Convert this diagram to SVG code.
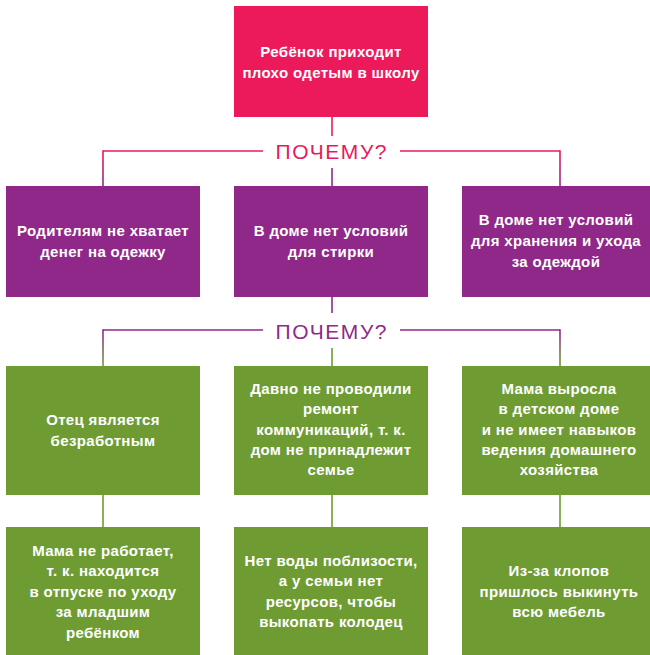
<svg xmlns="http://www.w3.org/2000/svg" width="650" height="655" viewBox="0 0 650 655">
<defs>
<style>
.box text{font-family:"Liberation Sans",Arial,sans-serif;font-weight:bold;font-size:15px;letter-spacing:0.35px;fill:#ffffff;text-anchor:middle}
.pink{fill:#EC1A5B}
.purple{fill:#902889}
.green{fill:#6E9C33}
.why{font-family:"Liberation Sans",Arial,sans-serif;font-size:21px;text-anchor:middle;letter-spacing:2px}
.conn line{stroke-width:1.6;fill:none}
</style>
<linearGradient id="gPP1" gradientUnits="userSpaceOnUse" x1="0" y1="151" x2="0" y2="186">
<stop offset="0" stop-color="#EC1A5B"/><stop offset="1" stop-color="#902889"/>
</linearGradient>
<linearGradient id="gPG1" gradientUnits="userSpaceOnUse" x1="0" y1="330" x2="0" y2="366">
<stop offset="0" stop-color="#902889"/><stop offset="1" stop-color="#6E9C33"/>
</linearGradient>
</defs>
<rect width="650" height="655" fill="#ffffff"/>

<g id="connectors" class="conn">
<line x1="332" y1="117" x2="332" y2="136" stroke="#EC1A5B"/>
<line x1="103" y1="151" x2="263" y2="151" stroke="#EC1A5B"/>
<line x1="400" y1="151" x2="560" y2="151" stroke="#EC1A5B"/>
<line x1="103" y1="150.2" x2="103" y2="186" stroke="url(#gPP1)"/>
<line x1="560" y1="150.2" x2="560" y2="186" stroke="url(#gPP1)"/>
<line x1="332" y1="168" x2="332" y2="186" stroke="#902889"/>

<line x1="332" y1="297" x2="332" y2="313" stroke="#902889"/>
<line x1="103" y1="330" x2="263" y2="330" stroke="#902889"/>
<line x1="400" y1="330" x2="560" y2="330" stroke="#902889"/>
<line x1="103" y1="329.2" x2="103" y2="366" stroke="url(#gPG1)"/>
<line x1="560" y1="329.2" x2="560" y2="366" stroke="url(#gPG1)"/>
<line x1="332" y1="348" x2="332" y2="366" stroke="#6E9C33"/>

<line x1="103" y1="495" x2="103" y2="527" stroke="#6E9C33"/>
<line x1="332" y1="495" x2="332" y2="527" stroke="#6E9C33"/>
<line x1="560" y1="495" x2="560" y2="527" stroke="#6E9C33"/>
</g>

<g id="why1"><text class="why" x="332" y="159" fill="#E8195E" textLength="113">ПОЧЕМУ?</text></g>
<g id="why2"><text class="why" x="332" y="339" fill="#8E2A8B" textLength="113">ПОЧЕМУ?</text></g>

<g id="top" class="box">
<rect class="pink" x="234" y="6" width="194" height="111"/>
<text x="331" y="57">Ребёнок приходит</text>
<text x="331" y="78">плохо одетым в школу</text>
</g>

<g id="p1" class="box">
<rect class="purple" x="6" y="186" width="194" height="111"/>
<text x="103" y="236">Родителям не хватает</text>
<text x="103" y="257">денег на одежку</text>
</g>
<g id="p2" class="box">
<rect class="purple" x="234" y="186" width="194" height="111"/>
<text x="331" y="236">В доме нет условий</text>
<text x="331" y="257">для стирки</text>
</g>
<g id="p3" class="box">
<rect class="purple" x="462" y="186" width="194" height="111"/>
<text x="556" y="225">В доме нет условий</text>
<text x="556" y="246">для хранения и ухода</text>
<text x="556" y="267">за одеждой</text>
</g>

<g id="g1" class="box">
<rect class="green" x="6" y="366" width="194" height="129"/>
<text x="103" y="425">Отец является</text>
<text x="103" y="446">безработным</text>
</g>
<g id="g2" class="box">
<rect class="green" x="234" y="366" width="194" height="129"/>
<text x="331" y="394">Давно не проводили</text>
<text x="331" y="414">ремонт</text>
<text x="331" y="435">коммуникаций, т. к.</text>
<text x="331" y="455">дом не принадлежит</text>
<text x="331" y="475">семье</text>
</g>
<g id="g3" class="box">
<rect class="green" x="462" y="366" width="194" height="129"/>
<text x="559" y="394">Мама выросла</text>
<text x="559" y="414">в детском доме</text>
<text x="559" y="435">и не имеет навыков</text>
<text x="559" y="455">ведения домашнего</text>
<text x="559" y="475">хозяйства</text>
</g>

<g id="h1" class="box">
<rect class="green" x="6" y="527" width="194" height="128"/>
<text x="103" y="556">Мама не работает,</text>
<text x="103" y="576">т. к. находится</text>
<text x="103" y="597">в отпуске по уходу</text>
<text x="103" y="617">за младшим</text>
<text x="103" y="638">ребёнком</text>
</g>
<g id="h2" class="box">
<rect class="green" x="234" y="527" width="194" height="128"/>
<text x="331" y="566">Нет воды поблизости,</text>
<text x="331" y="586">а у семьи нет</text>
<text x="331" y="607">ресурсов, чтобы</text>
<text x="331" y="627">выкопать колодец</text>
</g>
<g id="h3" class="box">
<rect class="green" x="462" y="527" width="194" height="128"/>
<text x="559" y="576">Из-за клопов</text>
<text x="559" y="597">пришлось выкинуть</text>
<text x="559" y="617">всю мебель</text>
</g>
</svg>
